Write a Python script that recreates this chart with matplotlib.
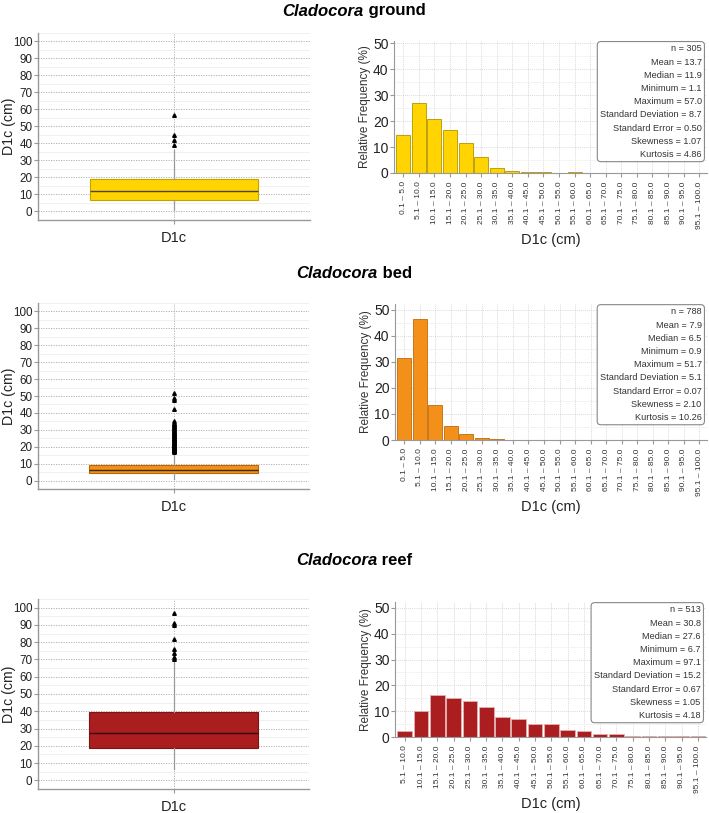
import matplotlib
matplotlib.use("Agg")
import matplotlib.pyplot as plt
from matplotlib.ticker import MultipleLocator

plt.rcParams["font.family"] = ["Liberation Sans", "DejaVu Sans"]

# ---- data ----
sites = ["ground", "bed", "reef"]

bins_full = ["0.1 \u2013 5.0", "5.1 \u2013 10.0", "10.1 \u2013 15.0", "15.1 \u2013 20.0",
             "20.1 \u2013 25.0", "25.1 \u2013 30.0", "30.1 \u2013 35.0", "35.1 \u2013 40.0",
             "40.1 \u2013 45.0", "45.1 \u2013 50.0", "50.1 \u2013 55.0", "55.1 \u2013 60.0",
             "60.1 \u2013 65.0", "65.1 \u2013 70.0", "70.1 \u2013 75.0", "75.1 \u2013 80.0",
             "80.1 \u2013 85.0", "85.1 \u2013 90.0", "90.1 \u2013 95.0", "95.1 \u2013 100.0"]
bins_reef = bins_full[1:]

freq_ground = [14.8, 26.8, 20.7, 16.4, 11.5, 6.2, 2.0, 0.7, 0.3, 0.3,
               0.0, 0.3, 0.0, 0.0, 0.0, 0.0, 0.0, 0.0, 0.0, 0.0]
freq_bed = [31.4, 46.4, 13.5, 5.4, 2.3, 0.9, 0.5, 0.0, 0.0, 0.0,
            0.0, 0.0, 0.0, 0.0, 0.0, 0.0, 0.0, 0.0, 0.0, 0.0]
freq_reef = [2.2, 10.1, 16.3, 15.3, 13.9, 11.6, 7.8, 7.0, 5.1, 5.1,
             2.8, 2.3, 1.3, 1.0, 0.2, 0.2, 0.2, 0.2, 0.2]

# box statistics (cm)
box_ground = dict(whislo=1.1, q1=6.9, med=11.9, q3=19.0, whishi=36.0)
box_bed = dict(whislo=0.9, q1=4.6, med=6.5, q3=9.4, whishi=16.5)
box_reef = dict(whislo=6.7, q1=19.0, med=27.6, q3=39.6, whishi=70.0)

fliers_ground = [39.0, 42.3, 45.2, 57.0]
fliers_bed = [17.0, 17.2, 17.5, 17.8, 18.0, 18.3, 18.6, 19.0, 19.2, 19.5, 19.9,
              20.2, 20.5, 20.9, 21.3, 21.6, 22.0, 22.4, 22.8, 23.1, 23.5, 24.0,
              24.4, 24.8, 25.2, 25.7, 26.1, 26.5, 27.0, 27.5, 28.0, 28.4, 29.0,
              29.5, 30.1, 30.6, 31.2, 31.8, 32.4, 33.0, 33.7, 34.3, 35.0,
              42.5, 47.8, 49.0, 51.7]
fliers_reef = [70.5, 71.2, 73.6, 76.0, 82.0, 90.0, 91.0, 97.1]

stats_ground = ["n = 305", "Mean = 13.7", "Median = 11.9", "Minimum = 1.1", "Maximum = 57.0",
                "Standard Deviation = 8.7", "Standard Error = 0.50", "Skewness = 1.07",
                "Kurtosis = 4.86"]
stats_bed = ["n = 788", "Mean = 7.9", "Median = 6.5", "Minimum = 0.9", "Maximum = 51.7",
             "Standard Deviation = 5.1", "Standard Error = 0.07", "Skewness = 2.10",
             "Kurtosis = 10.26"]
stats_reef = ["n = 513", "Mean = 30.8", "Median = 27.6", "Minimum = 6.7", "Maximum = 97.1",
              "Standard Deviation = 15.2", "Standard Error = 0.67", "Skewness = 1.05",
              "Kurtosis = 4.18"]

W, H = 709, 813


def ax_px(fig, left, top, right, bottom):
    return fig.add_axes([left / W, 1 - bottom / H, (right - left) / W, (bottom - top) / H])


def drawingBox(ax, box, fliers, face, edge, medc):
    st = dict(box)
    st["fliers"] = fliers
    st["label"] = "D1c"
    ax.bxp([st], positions=[1], widths=0.62, patch_artist=True, showcaps=False,
           boxprops=dict(facecolor=face, edgecolor=edge, linewidth=0.8),
           medianprops=dict(color=medc, linewidth=1.0),
           whiskerprops=dict(color="#999999", linewidth=0.9),
           flierprops=dict(marker="^", markersize=2.6, markerfacecolor="black",
                           markeredgecolor="black", linestyle="none"))
    ax.set_xlim(0.5, 1.5)
    ax.set_ylim(-5, 105)
    ax.yaxis.set_major_locator(MultipleLocator(10))
    ax.yaxis.set_minor_locator(MultipleLocator(5))
    ax.set_axisbelow(True)
    ax.grid(which="major", axis="y", color="#aaaaaa", linestyle=(0, (1.5, 1.5)), linewidth=0.6)
    ax.grid(which="minor", axis="y", color="#eeeeee", linestyle="-", linewidth=0.6)
    ax.grid(which="major", axis="x", color="#aaaaaa", linestyle=(0, (1.5, 1.5)), linewidth=0.6)
    for s in ["top", "right"]:
        ax.spines[s].set_visible(False)
    for s in ["left", "bottom"]:
        ax.spines[s].set_color("#999999")
        ax.spines[s].set_linewidth(1.0)
    ax.tick_params(axis="y", which="major", labelsize=8.4, colors="#999999", labelcolor="#222222",
                   length=3, pad=1)
    ax.tick_params(axis="y", which="minor", length=0)
    ax.tick_params(axis="x", labelsize=10.5, colors="#999999", labelcolor="#222222",
                   length=3, pad=5)
    ax.set_ylabel("D1c (cm)", fontsize=10.2, color="#222222")
    ax.yaxis.set_label_coords(-22 / 272, 0.5)


def drawingHist(ax, labels, freq, face, edge, stats, ytop):
    x = list(range(len(labels)))
    ax.bar(x, freq, width=0.9, color=face, edgecolor=edge, linewidth=0.6, zorder=2)
    ax.set_xticks(x)
    ax.set_xticklabels(labels, rotation=90, fontsize=6, color="#333333")
    ax.set_xlim(-0.6, len(labels) - 0.5)
    ax.set_ylim(0, ytop)
    ax.yaxis.set_major_locator(MultipleLocator(10))
    ax.yaxis.set_minor_locator(MultipleLocator(5))
    ax.set_axisbelow(True)
    ax.grid(which="major", color="#cccccc", linestyle=(0, (1.5, 1.5)), linewidth=0.5)
    ax.grid(which="minor", axis="y", color="#f0f0f0", linestyle="-", linewidth=0.5)
    for s in ["top", "right"]:
        ax.spines[s].set_visible(False)
    for s in ["left", "bottom"]:
        ax.spines[s].set_color("#999999")
    ax.tick_params(axis="y", which="major", labelsize=10, colors="#999999",
                   labelcolor="#222222", length=3, pad=1)
    ax.tick_params(axis="y", which="minor", length=0)
    ax.tick_params(axis="x", colors="#999999", length=3, pad=3)
    for t in ax.get_xticklabels():
        t.set_color("#333333")
    ax.set_ylabel("Relative Frequency (%)", fontsize=8.5, color="#333333", labelpad=1)
    ax.set_xlabel("D1c (cm)", fontsize=10.5, color="#222222", labelpad=3)
    ax.text(0.983, 0.975, "\n".join(stats), transform=ax.transAxes, ha="right", va="top",
            multialignment="right", fontsize=6.6, color="#333333", linespacing=1.6, zorder=5,
            bbox=dict(boxstyle="round,pad=0.3,rounding_size=0.4", facecolor="white",
                      edgecolor="#888888", linewidth=0.8))


def drawingTitle(fig, y, site):
    fig.canvas.draw()
    r = fig.canvas.get_renderer()
    t1 = fig.text(0, 1 - y / H, "Cladocora", fontsize=12, fontweight="bold", style="italic",
                  va="center", ha="left")
    t2 = fig.text(0, 1 - y / H, " " + site, fontsize=12, fontweight="bold",
                  va="center", ha="left")
    w1 = t1.get_window_extent(r).width
    w2 = t2.get_window_extent(r).width
    x0 = 354 - (w1 + w2) / 2
    t1.set_x(x0 / W)
    t2.set_x((x0 + w1) / W)


fig = plt.figure(figsize=(7.09, 8.13), dpi=100)

colors = {"ground": ("#FFD400", "#C2A300", "#4a4430", "#B39500"),
          "bed": ("#F39019", "#B8660A", "#3a2a10", "#C06A0A"),
          "reef": ("#AA1E20", "#7A1416", "#3a0808", "#E0B0B0")}

# ground
a = ax_px(fig, 38, 33, 310, 220)
c = colors["ground"]
drawingBox(a, box_ground, fliers_ground, c[0], c[1], c[2])
a = ax_px(fig, 394, 41, 707, 173)
drawingHist(a, bins_full, freq_ground, c[0], c[3], stats_ground, 50.9)

# bed
a = ax_px(fig, 38, 303, 309, 489)
c = colors["bed"]
drawingBox(a, box_bed, fliers_bed, c[0], c[1], c[2])
a = ax_px(fig, 395, 304, 707, 440)
drawingHist(a, bins_full, freq_bed, c[0], c[3], stats_bed, 52.3)

# reef
a = ax_px(fig, 38, 599, 309, 789)
c = colors["reef"]
drawingBox(a, box_reef, fliers_reef, c[0], c[1], c[2])
a = ax_px(fig, 395, 602, 706, 737)
drawingHist(a, bins_reef, freq_reef, c[0], c[3], stats_reef, 52.3)

drawingTitle(fig, 11, "ground")
drawingTitle(fig, 273, "bed")
drawingTitle(fig, 560, "reef")

plt.savefig("out.png", dpi=100)
